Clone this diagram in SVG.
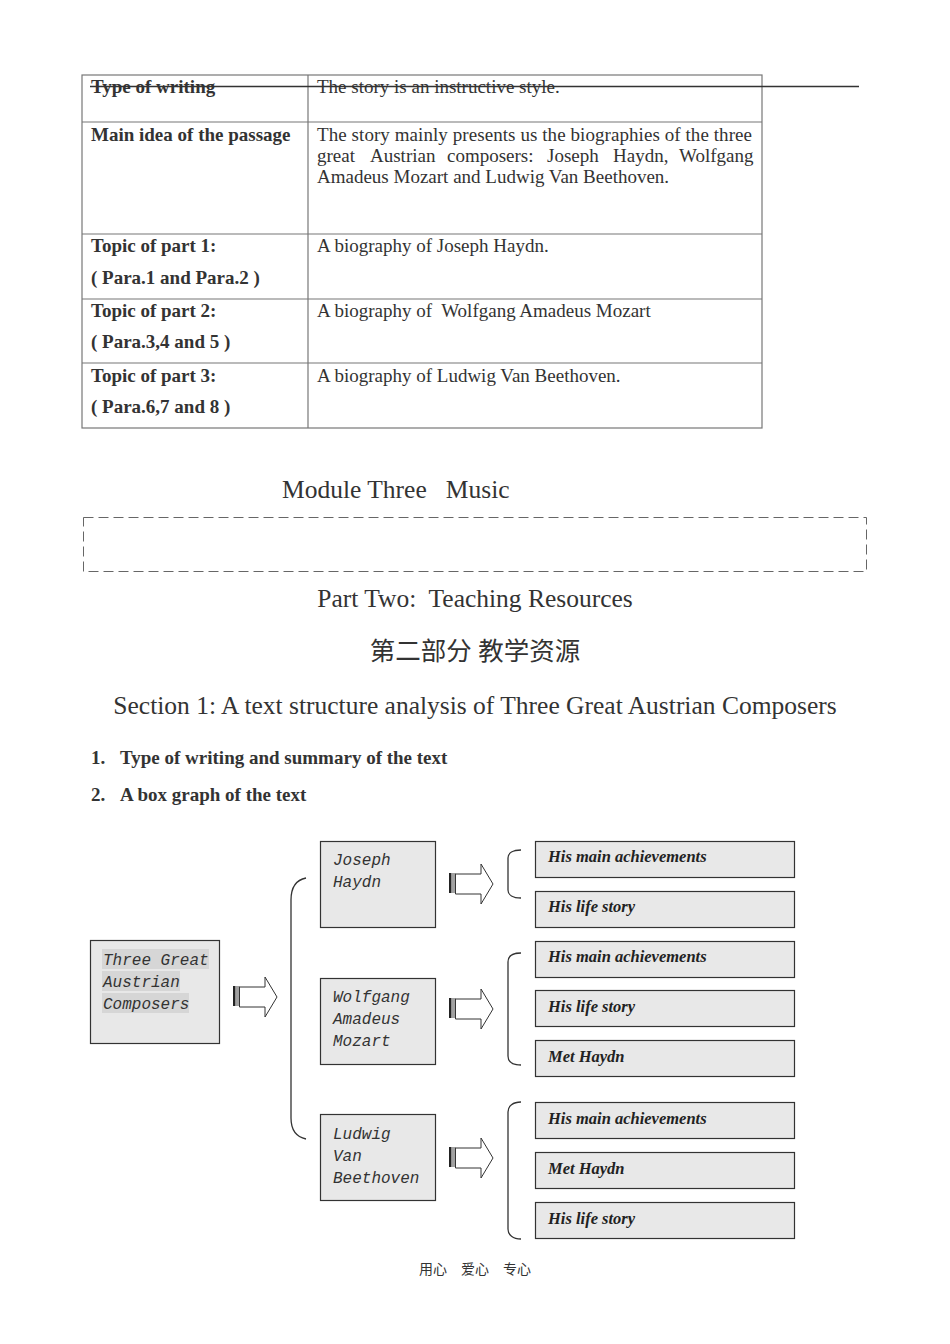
<svg xmlns="http://www.w3.org/2000/svg" width="950" height="1344" viewBox="0 0 950 1344">
<style>
.t{font-family:"Liberation Serif","Times New Roman",serif;fill:#333;font-size:19px}
.b{font-weight:bold}
.h{font-size:25.5px}
.cj{font-family:"Liberation Serif","Noto Sans CJK SC",serif;fill:#333}
.m{font-family:"Liberation Mono","Courier New",monospace;font-style:italic;font-size:16px;fill:#333}
.bi{font-family:"Liberation Serif","Times New Roman",serif;font-style:italic;font-weight:bold;font-size:16.5px;fill:#222}
.grid{stroke:#777;stroke-width:1.2;fill:none}
.box{fill:#e8e8e8;stroke:#333;stroke-width:1.2}
.br{fill:none;stroke:#333;stroke-width:1.3}
.ar{fill:#fff;stroke:#333;stroke-width:1}
</style>
<defs>
<g id="arrow">
<rect x="0" y="-11" width="2.5" height="20" fill="#222"/>
<rect x="3.5" y="-11" width="1" height="20" fill="#444"/>
<rect x="5.5" y="-11" width="1" height="20" fill="#444"/>
<path class="ar" d="M6.5,-10 H32 V-20 L44,0 L32,20 V10 H6.5 Z"/>
</g>
</defs>
<g id="table">
<rect class="grid" x="82" y="75" width="680" height="353"/>
<line class="grid" x1="308" y1="75" x2="308" y2="428"/>
<line class="grid" x1="82" y1="122" x2="762" y2="122"/>
<line class="grid" x1="82" y1="234" x2="762" y2="234"/>
<line class="grid" x1="82" y1="299" x2="762" y2="299"/>
<line class="grid" x1="82" y1="363" x2="762" y2="363"/>
<text class="t b" x="91" y="93">Type of writing</text>
<text class="t" x="317" y="93">The story is an instructive style.</text>
<line x1="90" y1="86.5" x2="859" y2="86.5" stroke="#333" stroke-width="1.3"/>
<text class="t b" x="91" y="141">Main idea of the passage</text>
<text class="t" x="317" y="141" textLength="435" lengthAdjust="spacing">The story mainly presents us the biographies of the three</text>
<text class="t" y="162"><tspan x="317">great</tspan><tspan x="370">Austrian</tspan><tspan x="447">composers:</tspan><tspan x="547">Joseph</tspan><tspan x="613">Haydn,</tspan><tspan x="679">Wolfgang</tspan></text>
<text class="t" x="317" y="183">Amadeus Mozart and Ludwig Van Beethoven.</text>
<text class="t b" x="91" y="252">Topic of part 1:</text>
<text class="t b" x="91" y="284">( Para.1 and Para.2 )</text>
<text class="t" x="317" y="252">A biography of Joseph Haydn.</text>
<text class="t b" x="91" y="317">Topic of part 2:</text>
<text class="t b" x="91" y="348">( Para.3,4 and 5 )</text>
<text class="t" x="317" y="317" xml:space="preserve">A biography of  Wolfgang Amadeus Mozart</text>
<text class="t b" x="91" y="382">Topic of part 3:</text>
<text class="t b" x="91" y="413">( Para.6,7 and 8 )</text>
<text class="t" x="317" y="382">A biography of Ludwig Van Beethoven.</text>
</g>
<g id="headings">
<text class="t h" x="282" y="498" xml:space="preserve">Module Three   Music</text>
<rect x="83.5" y="517.5" width="783" height="54" fill="none" stroke="#666" stroke-width="1" stroke-dasharray="10,5"/>
<text class="t h" x="475" y="607" text-anchor="middle" xml:space="preserve">Part Two:  Teaching Resources</text>
<text class="cj h" x="475" y="660" text-anchor="middle">第二部分 教学资源</text>
<text class="t h" x="475" y="714" text-anchor="middle">Section 1: A text structure analysis of Three Great Austrian Composers</text>
<text class="t b" x="91" y="764">1.</text>
<text class="t b" x="120" y="764">Type of writing and summary of the text</text>
<text class="t b" x="91" y="801">2.</text>
<text class="t b" x="120" y="801">A box graph of the text</text>
</g>
<g id="node-main">
<rect class="box" x="90.5" y="940.5" width="129" height="103"/>
<rect x="102" y="949" width="107" height="20" fill="#d6d6d6"/>
<rect x="102" y="971" width="78" height="20" fill="#d6d6d6"/>
<rect x="102" y="993" width="87" height="20" fill="#d6d6d6"/>
<text class="m" x="103" y="965">Three Great</text>
<text class="m" x="103" y="987">Austrian</text>
<text class="m" x="103" y="1009">Composers</text>
</g>
<g id="node-haydn">
<rect class="box" x="320.5" y="841.5" width="115" height="86"/>
<text class="m" x="333" y="865">Joseph</text>
<text class="m" x="333" y="887">Haydn</text>
</g>
<g id="node-mozart">
<rect class="box" x="320.5" y="978.5" width="115" height="86"/>
<text class="m" x="333" y="1002">Wolfgang</text>
<text class="m" x="333" y="1024">Amadeus</text>
<text class="m" x="333" y="1046">Mozart</text>
</g>
<g id="node-beethoven">
<rect class="box" x="320.5" y="1114.5" width="115" height="86"/>
<text class="m" x="333" y="1139">Ludwig</text>
<text class="m" x="333" y="1161">Van</text>
<text class="m" x="333" y="1183">Beethoven</text>
</g>
<g id="node-h1"><rect class="box" x="535.5" y="841.5" width="259" height="36"/><text class="bi" x="548" y="862">His main achievements</text></g>
<g id="node-h2"><rect class="box" x="535.5" y="891.5" width="259" height="36"/><text class="bi" x="548" y="912">His life story</text></g>
<g id="node-m1"><rect class="box" x="535.5" y="941.5" width="259" height="36"/><text class="bi" x="548" y="962">His main achievements</text></g>
<g id="node-m2"><rect class="box" x="535.5" y="990.5" width="259" height="36"/><text class="bi" x="548" y="1012">His life story</text></g>
<g id="node-m3"><rect class="box" x="535.5" y="1040.5" width="259" height="36"/><text class="bi" x="548" y="1062">Met Haydn</text></g>
<g id="node-b1"><rect class="box" x="535.5" y="1102.5" width="259" height="36"/><text class="bi" x="548" y="1124">His main achievements</text></g>
<g id="node-b2"><rect class="box" x="535.5" y="1152.5" width="259" height="36"/><text class="bi" x="548" y="1174">Met Haydn</text></g>
<g id="node-b3"><rect class="box" x="535.5" y="1202.5" width="259" height="36"/><text class="bi" x="548" y="1224">His life story</text></g>
<g id="connectors">
<use href="#arrow" x="233" y="997"/>
<use href="#arrow" x="449" y="884"/>
<use href="#arrow" x="449" y="1009"/>
<use href="#arrow" x="449" y="1158"/>
<path class="br" d="M306,878 C296,880 291,888 291,900 V1118 C291,1130 297,1137 306,1139"/>
<path class="br" d="M521,850 C513,850 508,853 508,858 V890 C508,895 513,898 521,898"/>
<path class="br" d="M521,953 C513,953 508,956 508,962 V1056 C508,1062 513,1065 521,1065"/>
<path class="br" d="M521,1102 C513,1102 508,1106 508,1112 V1229 C508,1235 513,1239 521,1239"/>
</g>
<g id="footer">
<text class="cj" x="475" y="1274" font-size="14" text-anchor="middle" xml:space="preserve">用心　爱心　专心</text>
</g>
</svg>
